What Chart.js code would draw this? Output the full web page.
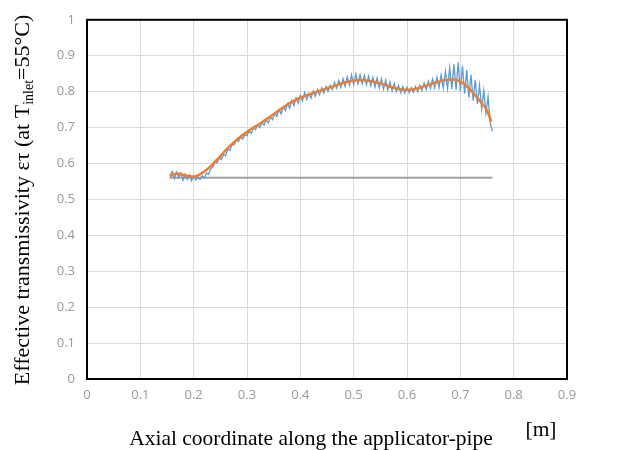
<!DOCTYPE html>
<html>
<head>
<meta charset="utf-8">
<script src="https://cdn.jsdelivr.net/npm/chart.js@4.4.0/dist/chart.umd.min.js"></script>
<style>
  html, body { margin: 0; padding: 0; background: #ffffff; }
  #wrap { width: 622px; height: 450px; position: relative; }
</style>
</head>
<body>
<div id="wrap"><canvas id="c" width="622" height="450"></canvas></div>
<script>
// Measured transmissivity along the pipe (raw, oscillating signal)
const measuredX = [
  0.156,0.160,0.164,0.168,0.172,0.176,0.180,0.184,0.188,0.192,
  0.196,0.200,0.204,0.208,0.212,0.216,0.220,0.224,0.228,0.232,
  0.236,0.240,0.244,0.248,0.252,0.256,0.260,0.264,0.268,0.272,
  0.276,0.280,0.284,0.288,0.292,0.296,0.300,0.304,0.308,0.312,
  0.316,0.320,0.324,0.328,0.332,0.336,0.340,0.344,0.348,0.352,
  0.356,0.360,0.364,0.368,0.372,0.376,0.380,0.384,0.388,0.392,
  0.396,0.400,0.404,0.408,0.412,0.416,0.420,0.424,0.428,0.432,
  0.436,0.440,0.444,0.448,0.452,0.456,0.460,0.464,0.468,0.472,
  0.476,0.480,0.484,0.488,0.492,0.496,0.500,0.504,0.508,0.512,
  0.516,0.520,0.524,0.528,0.532,0.536,0.540,0.544,0.548,0.552,
  0.556,0.560,0.564,0.568,0.572,0.576,0.580,0.584,0.588,0.592,
  0.596,0.600,0.604,0.608,0.612,0.616,0.620,0.624,0.628,0.632,
  0.636,0.640,0.644,0.648,0.652,0.656,0.660,0.664,0.668,0.672,
  0.676,0.680,0.684,0.688,0.692,0.696,0.700,0.704,0.708,0.712,
  0.716,0.720,0.724,0.728,0.732,0.736,0.740,0.744,0.748,0.752,
  0.756,0.760
];
const measuredY = [
  0.567,0.578,0.558,0.576,0.561,0.574,0.553,0.571,0.556,0.568,
  0.552,0.565,0.554,0.562,0.556,0.566,0.560,0.573,0.570,0.585,
  0.590,0.604,0.602,0.615,0.611,0.625,0.622,0.640,0.636,0.652,
  0.652,0.666,0.661,0.674,0.668,0.680,0.677,0.691,0.684,0.698,
  0.694,0.708,0.700,0.714,0.707,0.722,0.713,0.729,0.722,0.740,
  0.731,0.750,0.738,0.758,0.747,0.766,0.754,0.776,0.761,0.783,
  0.768,0.789,0.774,0.797,0.778,0.795,0.782,0.802,0.787,0.806,
  0.791,0.811,0.796,0.814,0.801,0.818,0.806,0.826,0.810,0.831,
  0.812,0.836,0.815,0.841,0.818,0.846,0.820,0.849,0.822,0.847,
  0.822,0.845,0.819,0.843,0.816,0.840,0.813,0.838,0.810,0.836,
  0.807,0.832,0.804,0.827,0.802,0.822,0.800,0.817,0.797,0.814,
  0.796,0.812,0.797,0.811,0.798,0.814,0.800,0.818,0.803,0.824,
  0.806,0.829,0.809,0.835,0.810,0.840,0.811,0.847,0.810,0.856,
  0.809,0.866,0.807,0.876,0.805,0.882,0.801,0.872,0.794,0.860,
  0.784,0.847,0.775,0.833,0.765,0.818,0.752,0.803,0.740,0.786,
  0.712,0.690
];

// Smoothed trend of the measurement
const trendX = [
  0.155,0.160,0.170,0.180,0.190,0.200,0.210,0.220,0.230,0.240,
  0.250,0.260,0.270,0.280,0.290,0.300,0.310,0.320,0.330,0.340,
  0.350,0.360,0.370,0.380,0.390,0.400,0.410,0.420,0.430,0.440,
  0.450,0.460,0.470,0.480,0.490,0.500,0.510,0.520,0.530,0.540,
  0.550,0.560,0.570,0.580,0.590,0.600,0.610,0.620,0.630,0.640,
  0.650,0.660,0.670,0.680,0.690,0.700,0.710,0.720,0.730,0.740,
  0.750,0.758
];
const trendY = [
  0.565,0.568,0.572,0.568,0.565,0.563,0.568,0.578,0.590,0.605,
  0.620,0.637,0.652,0.665,0.677,0.688,0.698,0.707,0.717,0.727,
  0.737,0.748,0.758,0.768,0.776,0.783,0.789,0.794,0.799,0.804,
  0.809,0.814,0.819,0.824,0.828,0.831,0.832,0.832,0.830,0.827,
  0.823,0.818,0.813,0.809,0.806,0.805,0.806,0.809,0.814,0.819,
  0.824,0.828,0.832,0.834,0.833,0.828,0.818,0.803,0.786,0.768,
  0.748,0.717
];

// Reference level
const baseX = [0.155, 0.76];
const baseY = [0.56, 0.56];

// Axis ticks
const xTicks = [0, 0.1, 0.2, 0.3, 0.4, 0.5, 0.6, 0.7, 0.8, 0.9];
const yTicks = [0, 0.1, 0.2, 0.3, 0.4, 0.5, 0.6, 0.7, 0.8, 0.9, 1];

const pairs = (xs, ys) => xs.map((x, i) => ({ x: x, y: ys[i] }));

const SERIF = '"Liberation Serif", "Times New Roman", serif';
const TICK_FONT = { family: '"Open Sans", "Liberation Sans", sans-serif', size: 13 };

// Frame around the plotting area and the serif axis titles
const framePlugin = {
  id: 'frame',
  afterDraw(chart) {
    const { ctx, chartArea: a } = chart;
    ctx.save();
    ctx.strokeStyle = '#000000';
    ctx.lineWidth = 2;
    ctx.strokeRect(a.left, a.top, a.right - a.left, a.bottom - a.top);

    ctx.fillStyle = '#000000';
    ctx.textBaseline = 'alphabetic';

    // x-axis title and unit
    ctx.font = '21.5px ' + SERIF;
    ctx.textAlign = 'center';
    ctx.fillText('Axial coordinate along the applicator-pipe', 311, 445);
    ctx.fillText('[m]', 541, 436);

    // y-axis title with subscript, rotated
    const p1 = 'Effective transmissivity \u03B5\u03C4 (at T';
    const sub = 'inlet';
    const p2 = '=55\u00B0C)';
    const bigFont = '22px ' + SERIF;
    const smallFont = '14px ' + SERIF;
    ctx.font = bigFont;
    const w1 = ctx.measureText(p1).width;
    const w3 = ctx.measureText(p2).width;
    ctx.font = smallFont;
    const w2 = ctx.measureText(sub).width;
    const total = w1 + w2 + w3;
    ctx.translate(29, 200);
    ctx.rotate(-Math.PI / 2);
    ctx.textAlign = 'left';
    const x0 = -total / 2;
    ctx.font = bigFont;
    ctx.fillText(p1, x0, 0);
    ctx.font = smallFont;
    ctx.fillText(sub, x0 + w1, 4);
    ctx.font = bigFont;
    ctx.fillText(p2, x0 + w1 + w2, 0);
    ctx.restore();
  }
};

new Chart(document.getElementById('c'), {
  type: 'scatter',
  data: {
    datasets: [
      {
        label: 'smoothed',
        data: pairs(trendX, trendY),
        showLine: true,
        borderColor: '#ED7D31',
        borderWidth: 2.5,
        pointRadius: 0,
        cubicInterpolationMode: 'monotone',
        order: 1
      },
      {
        label: 'measured',
        data: pairs(measuredX, measuredY),
        showLine: true,
        borderColor: '#5B9BD5',
        borderWidth: 1.3,
        pointRadius: 0,
        tension: 0,
        order: 2
      },
      {
        label: 'reference',
        data: pairs(baseX, baseY),
        showLine: true,
        borderColor: '#A0A0A0',
        borderWidth: 2,
        pointRadius: 0,
        order: 3
      }
    ]
  },
  options: {
    responsive: false,
    animation: false,
    layout: { padding: { left: 0, right: 55, top: 15, bottom: 0 } },
    plugins: {
      legend: { display: false },
      tooltip: { enabled: false }
    },
    scales: {
      x: {
        type: 'linear',
        min: xTicks[0],
        max: xTicks[xTicks.length - 1],
        afterBuildTicks: (s) => { s.ticks = xTicks.map(v => ({ value: v })); },
        afterFit: (s) => { s.height = 71; },
        grid: { color: '#D9D9D9', lineWidth: 1, drawTicks: false },
        border: { display: false },
        ticks: {
          padding: 8,
          color: '#999999',
          font: TICK_FONT,
          maxRotation: 0,
          callback: (v) => String(v)
        }
      },
      y: {
        type: 'linear',
        min: yTicks[0],
        max: yTicks[yTicks.length - 1],
        afterBuildTicks: (s) => { s.ticks = yTicks.map(v => ({ value: v })); },
        afterFit: (s) => { s.width = 87; },
        grid: { color: '#D9D9D9', lineWidth: 1, drawTicks: false },
        border: { display: false },
        ticks: {
          padding: 12,
          color: '#999999',
          font: TICK_FONT,
          callback: (v) => String(v)
        }
      }
    }
  },
  plugins: [framePlugin]
});
</script>
</body>
</html>
